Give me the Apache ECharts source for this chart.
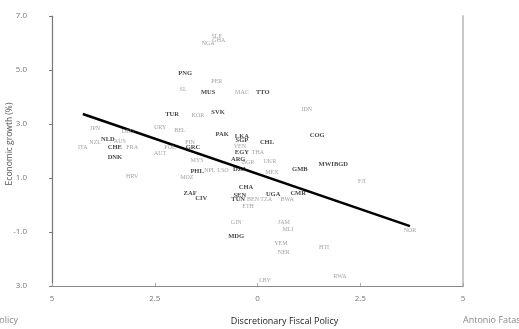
<!DOCTYPE html>
<html>
<head>
<meta charset="utf-8">
<script src="https://cdn.jsdelivr.net/npm/echarts@6/dist/echarts.min.js"></script>
<style>
  html, body { margin: 0; padding: 0; background: #fff; }
  #main { width: 519px; height: 329px; }
</style>
</head>
<body>
<div id="main"></div>
<script>
// countries drawn in bold black
var darkCodes = ['PNG','MUS','TTO','TUR','SVK','PAK','LKA','SGP','CHL','COG','NLD','CHE','DNK','GRC','EGY','ARG','DZA','PHL','GMB','MWI','BGD','CHA','ZAF','CIV','SEN','TUN','UGA','CMR','MDG'];
var darkX = [-1.76,-1.20,0.13,-2.08,-0.96,-0.86,-0.38,-0.38,0.23,1.45,-3.64,-3.47,-3.47,-1.57,-0.38,-0.47,-0.43,-1.47,1.03,1.67,2.03,-0.28,-1.64,-1.37,-0.43,-0.47,0.38,0.99,-0.52];
var darkY = [4.86,4.16,4.16,3.35,3.42,2.61,2.54,2.39,2.31,2.57,2.42,2.13,1.76,2.13,1.94,1.69,1.32,1.24,1.32,1.50,1.50,0.65,0.43,0.25,0.36,0.21,0.39,0.43,-1.15];

// countries drawn in light grey
var lightCodes = ['SLE','GHA','NGA','PER','SL','MAC','IDN','KOR','JPN','DEU','URY','BEL','NZL','AUS','ITA','FRA','POL','FIN','AUT','MYS','VEN','THA','BGR','UKR','MEX','NPL','LSO','HRV','MOZ','FJI','BEN','TZA','BWA','ETH','GIN','JAM','MLI','YEM','NER','HTI','LBY','RWA','NOR'];
var lightX = [-0.99,-0.94,-1.20,-0.99,-1.81,-0.38,1.20,-1.45,-3.95,-3.15,-2.37,-1.89,-3.95,-3.35,-4.25,-3.05,-2.13,-1.64,-2.37,-1.47,-0.43,0.01,-0.23,0.30,0.35,-1.16,-0.84,-3.05,-1.72,2.54,-0.11,0.21,0.72,-0.23,-0.52,0.64,0.74,0.57,0.64,1.62,0.18,2.01,3.71];
var lightY = [6.23,6.08,6.00,4.56,4.27,4.16,3.53,3.31,2.83,2.72,2.87,2.76,2.31,2.35,2.13,2.13,2.13,2.31,1.91,1.65,2.17,1.94,1.58,1.61,1.21,1.28,1.28,1.06,1.02,0.87,0.21,0.21,0.21,-0.05,-0.64,-0.64,-0.90,-1.41,-1.75,-1.56,-2.78,-2.63,-0.93];

// fitted line
var fitX = [-4.25, 3.71];
var fitY = [3.37, -0.78];

var xTickLabels = {'-5': '5', '-2.5': '2.5', '0': '0', '2.5': '2.5', '5': '5'};
var yTickLabels = {'7': '7.0', '5': '5.0', '3': '3.0', '1': '1.0', '-1': '-1.0', '-3': '3.0'};

function pts(codes, xs, ys) {
    var out = [];
    for (var i = 0; i < codes.length; i++) {
        out.push({ name: codes[i], value: [xs[i], ys[i]] });
    }
    return out;
}

var chart = echarts.init(document.getElementById('main'));
var option = {
    animation: false,
    grid: { left: 52, right: 56, top: 16, bottom: 43, outerBoundsMode: 'none', containLabel: false },
    xAxis: {
        type: 'value',
        min: -5, max: 5, interval: 2.5,
        splitLine: { show: false },
        axisLine: { onZero: false, lineStyle: { color: '#8a8a8a', width: 1.2 } },
        axisTick: { inside: true, length: 3, lineStyle: { color: '#aaa' } },
        axisLabel: {
            margin: 9, fontSize: 8, color: '#777', fontFamily: 'Open Sans',
            formatter: function (v) { return xTickLabels[String(v)]; }
        },
        name: 'Discretionary Fiscal Policy',
        nameLocation: 'middle',
        nameGap: 31,
        nameTextStyle: { fontSize: 9, color: '#222', fontFamily: 'Open Sans', padding: [0, 0, 0, 54] }
    },
    yAxis: [{
        type: 'value',
        min: -3, max: 7, interval: 2,
        splitLine: { show: false },
        axisLine: { show: true, onZero: false, lineStyle: { color: '#777', width: 1.2 } },
        axisTick: { show: true, length: 3, lineStyle: { color: '#777' } },
        axisLabel: {
            margin: 25, fontSize: 8, color: '#777', fontFamily: 'Open Sans',
            formatter: function (v) { return yTickLabels[String(v)]; }
        }
    }, {
        type: 'value',
        position: 'right',
        min: -3, max: 7, interval: 2,
        splitLine: { show: false },
        axisLine: { show: true, onZero: false, lineStyle: { color: '#c8c8c8', width: 2 } },
        axisTick: { show: false },
        axisLabel: { show: false }
    }],
    graphic: [
        {
            type: 'text', x: 10, y: 144, rotation: Math.PI / 2,
            style: { text: 'Economic growth (%)', fontSize: 8.5, fill: '#555', fontFamily: 'Open Sans', align: 'center', verticalAlign: 'middle' }
        },
        { type: 'text', right: 501, top: 316, style: { text: 'Fiscal Policy', fontSize: 9, fill: '#888', fontFamily: 'Open Sans' } },
        { type: 'text', left: 463, top: 316, style: { text: 'Antonio Fatas', fontSize: 9, fill: '#888', fontFamily: 'Open Sans' } }
    ],
    series: [
        {
            type: 'line',
            data: fitX.map(function (x, i) { return [x, fitY[i]]; }),
            symbol: 'none',
            lineStyle: { color: '#000', width: 2.5 },
            z: 1
        },
        {
            type: 'scatter',
            symbolSize: 0,
            data: pts(lightCodes, lightX, lightY),
            label: {
                show: true, position: 'inside', formatter: '{b}',
                fontSize: 6, color: '#8c8c8c', fontFamily: 'Liberation Serif'
            },
            z: 2
        },
        {
            type: 'scatter',
            symbolSize: 0,
            data: pts(darkCodes, darkX, darkY),
            label: {
                show: true, position: 'inside', formatter: '{b}',
                fontSize: 6.5, color: '#111', fontWeight: 'bold', fontFamily: 'Liberation Serif'
            },
            z: 3
        }
    ]
};
chart.setOption(option);
window.onresize = function () { chart.resize(); };
</script>
</body>
</html>
